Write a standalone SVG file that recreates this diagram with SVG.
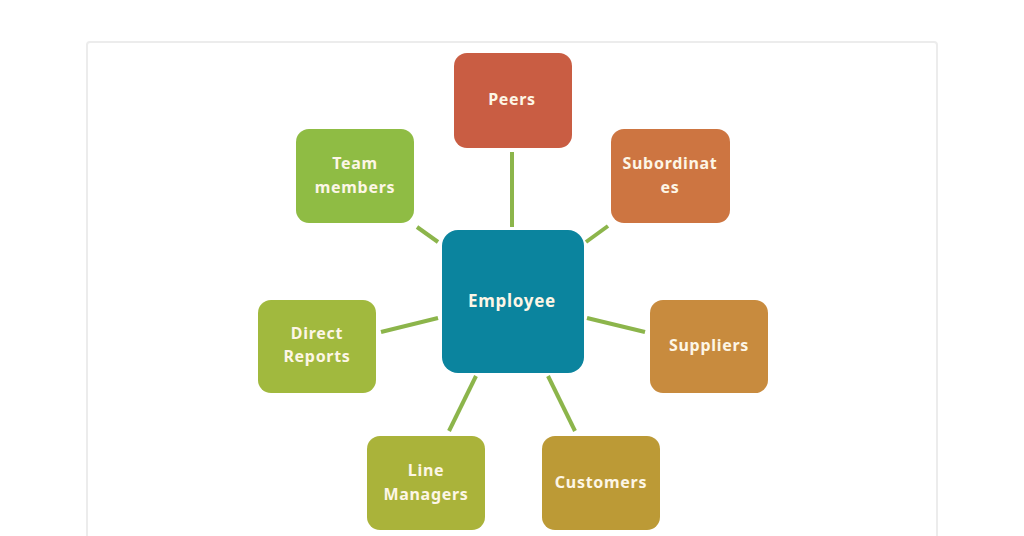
<svg xmlns="http://www.w3.org/2000/svg" width="1024" height="536" viewBox="0 0 1024 536">
<style>
.lbl{font-family:"Noto Sans","Open Sans",sans-serif;font-weight:bold;font-size:16px;letter-spacing:0.7px;fill:#fdf6e6;text-anchor:middle;dominant-baseline:central}
.box{stroke:none}
.conn{stroke:#8cb54b;stroke-width:4;stroke-linecap:butt}
</style>
<rect x="0" y="0" width="1024" height="536" fill="#ffffff"/>
<rect x="87" y="42" width="850" height="510" rx="3" fill="#ffffff" stroke="#ececec" stroke-width="2"/>
<g id="connectors">
<line class="conn" x1="512" y1="152" x2="512" y2="227"/>
<line class="conn" x1="586" y1="242" x2="608" y2="226"/>
<line class="conn" x1="417" y1="227" x2="438" y2="242"/>
<line class="conn" x1="381" y1="332" x2="438" y2="318"/>
<line class="conn" x1="587" y1="318" x2="645" y2="332"/>
<line class="conn" x1="476" y1="376" x2="449" y2="431"/>
<line class="conn" x1="548" y1="376" x2="575" y2="431"/>
</g>
<g id="employee">
<rect class="box" x="442" y="230" width="142" height="143" rx="16" fill="#0b849e"/>
<text class="lbl" x="512" y="300" style="font-size:17px">Employee</text>
</g>
<g id="peers">
<rect class="box" x="454" y="53" width="118" height="95" rx="13" fill="#c95d43"/>
<text class="lbl" x="512" y="99">Peers</text>
</g>
<g id="subordinates">
<rect class="box" x="611" y="129" width="119" height="94" rx="13" fill="#cd7541"/>
<text class="lbl" x="670" y="163">Subordinat</text>
<text class="lbl" x="670" y="187">es</text>
</g>
<g id="team-members">
<rect class="box" x="296" y="129" width="118" height="94" rx="13" fill="#8fbc44"/>
<text class="lbl" x="355" y="163">Team</text>
<text class="lbl" x="355" y="187">members</text>
</g>
<g id="direct-reports">
<rect class="box" x="258" y="300" width="118" height="93" rx="13" fill="#a1b93e"/>
<text class="lbl" x="317" y="333">Direct</text>
<text class="lbl" x="317" y="356">Reports</text>
</g>
<g id="suppliers">
<rect class="box" x="650" y="300" width="118" height="93" rx="13" fill="#c88b3e"/>
<text class="lbl" x="709" y="345">Suppliers</text>
</g>
<g id="line-managers">
<rect class="box" x="367" y="436" width="118" height="94" rx="13" fill="#aab33a"/>
<text class="lbl" x="426" y="470">Line</text>
<text class="lbl" x="426" y="494">Managers</text>
</g>
<g id="customers">
<rect class="box" x="542" y="436" width="118" height="94" rx="13" fill="#bc9a36"/>
<text class="lbl" x="601" y="482">Customers</text>
</g>
</svg>
